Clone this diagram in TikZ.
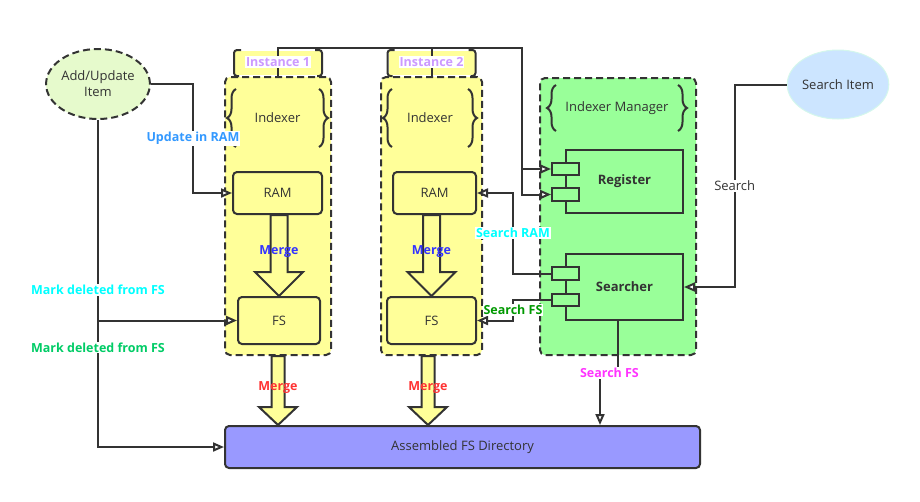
\documentclass[tikz,border=0pt]{standalone}
\usepackage{fontspec}
\setmainfont{Open Sans}
\usepackage{tikz}
\usetikzlibrary{positioning,arrows.meta,calc,shapes.geometric,decorations.pathreplacing}
\definecolor{lineclr}{HTML}{333333}
\definecolor{yellowclr}{HTML}{FFFF99}
\definecolor{greenclr}{HTML}{99FF99}
\definecolor{blueclr}{HTML}{9999FF}
\definecolor{addclr}{HTML}{E6FACC}
\definecolor{searchclr}{HTML}{CCE5FF}
\definecolor{mintclr}{HTML}{D4F7EC}
\definecolor{instclr}{HTML}{CC99FF}
\definecolor{updclr}{HTML}{3399FF}
\definecolor{cyanclr}{HTML}{00FFFF}
\definecolor{markclr}{HTML}{00CC66}
\definecolor{mergein}{HTML}{3333FF}
\definecolor{mergeout}{HTML}{FF3333}
\definecolor{sfsclr}{HTML}{009900}
\definecolor{pinkclr}{HTML}{FF33FF}

\begin{document}
\begin{tikzpicture}[x=1pt, y=-1pt, line width=2pt, color=lineclr,
				every node/.style={font=\fontsize{13}{16}\selectfont, text=lineclr},
				conn/.style={-{Triangle[length=11pt, width=9pt, fill=white]}},
				item/.style={ellipse, minimum width=100pt, minimum height=70pt, align=center, inner sep=0},
				container/.style={draw, dash pattern=on 7pt off 4pt, rounded corners=5pt, inner sep=0},
				tabbox/.style={fill=yellowclr, minimum width=86pt, minimum height=24pt, inner sep=0},
				box/.style={draw, rounded corners=4pt, fill=yellowclr, inner sep=0},
				comp/.style={draw, fill=greenclr, inner sep=0, font=\bfseries\fontsize{13}{16}\selectfont},
				port/.style={draw, fill=greenclr, minimum width=27pt, minimum height=12.5pt, inner sep=0},
				curly/.style={decorate, decoration={brace, amplitude=9pt}},
				lbl/.style={fill=white, inner sep=1pt, font=\bfseries\fontsize{12.5}{15}\selectfont},
				blockarrow/.style={draw, fill=yellowclr, line join=miter}]
				\useasboundingbox (0,0) rectangle (920,501);

				\node[container, fill=yellowclr, minimum width=106pt, minimum height=278pt] (inst1) at (278,216) {};
				\node[container, fill=yellowclr, minimum width=101pt, minimum height=278pt] (inst2) at (431.5,216) {};
				\node[container, fill=greenclr, minimum width=156pt, minimum height=277pt] (manager) at (618,216.5) {};

				\node[tabbox, above=0pt of inst1] (tab1) {};
				\node[tabbox, above=0pt of inst2] (tab2) {};
				\foreach \t in {tab1,tab2}{
					\draw[rounded corners=3pt] ([xshift=7pt]\t.north west) -- (\t.north west) -- (\t.south west) -- ([xshift=5pt]\t.south west);
					\draw[rounded corners=3pt] ([xshift=-7pt]\t.north east) -- (\t.north east) -- (\t.south east) -- ([xshift=-5pt]\t.south east);
				}

				\node[minimum width=81pt, minimum height=56pt, inner sep=0] (idx1) at (277.5,118) {Indexer};
				\node[minimum width=74pt, minimum height=56pt, inner sep=0] (idx2) at (430,118) {Indexer};
				\node[minimum width=120pt, minimum height=44pt, inner sep=0] (idxmgr) at (617,108) {Indexer Manager};
				\foreach \n in {idx1,idx2,idxmgr}{
					\draw[curly] (\n.south west) -- (\n.north west);
					\draw[curly] (\n.north east) -- (\n.south east);
				}

				\node[box, minimum width=89pt, minimum height=42pt] (ram1) at (277.5,193) {RAM};
				\node[box, minimum width=82pt, minimum height=47pt] (fs1) at (279,320.5) {FS};
				\node[box, minimum width=83pt, minimum height=42pt] (ram2) at (434.5,193) {RAM};
				\node[box, minimum width=89pt, minimum height=47pt] (fs2) at (431.5,320.5) {FS};
				\node[comp, minimum width=117pt, minimum height=63pt] (register) at (624.5,181.5) {Register};
				\node[comp, minimum width=117pt, minimum height=66pt] (searcher) at (624.5,287) {Searcher};
				\node[port] (regport1) at (565.5,169) {};
				\node[port] (regport2) at (565.5,194.5) {};
				\node[port] (srchport1) at (565.5,273.5) {};
				\node[port] (srchport2) at (565.5,300) {};
				\node[box, fill=blueclr, minimum width=475pt, minimum height=42pt] (assembled) at (462.5,447) {Assembled FS Directory};

				\node[item, draw, dash pattern=on 7pt off 4pt, fill=addclr] (additem) at (98,84) {Add/Update\\Item};
				\node[item, draw=mintclr, line width=1pt, fill=searchclr, minimum height=69pt] (searchitem) at (838,84.5) {Search Item};

				\coordinate (out1) at (inst1.south);
				\coordinate (out2) at ([xshift=-3.5pt]inst2.south);
				\foreach \a/\b/\w/\hw/\hl/\clr in {ram1.south -| fs1.north/fs1.north/8.5/24/24/mergein,
					ram2.south -| fs2.north/fs2.north/8.5/24/24/mergein,
					out1/out1 |- assembled.north/6.5/19/18/mergeout,
					out2/out2 |- assembled.north/6.5/19/18/mergeout}{
					\draw[blockarrow] let \p1=(\a), \p2=(\b) in
						(\x2-\w pt,\y1) -- (\x2-\w pt,\y2+\hl pt) -- (\x2-\hw pt,\y2+\hl pt) -- (\x2,\y2)
						-- (\x2+\hw pt,\y2+\hl pt) -- (\x2+\w pt,\y2+\hl pt) -- (\x2+\w pt,\y1) -- cycle;
					\node[font=\bfseries\fontsize{12.5}{15}\selectfont, text=\clr] at ($(\a)!0.45!(\b)$) {Merge};
				}

				\draw[conn] (additem.east) -- ++(42,0) |- node[lbl, text=updclr, pos=0.25] (lblupd) {Update in RAM} (ram1.west);
				\draw[conn] (additem.south) |- node[lbl, text=cyanclr, pos=0.26] (lblmark1) {Mark deleted from FS}
					node[lbl, text=markclr, pos=0.348] (lblmark2) {Mark deleted from FS} (assembled.west);
				\draw[conn] (additem.south |- fs1.west) -- (fs1.west);

				\coordinate (bus) at (522,48);
				\draw (inst2.north) -- (inst2.north |- bus);
				\draw[conn] (inst1.north) |- (bus) |- (regport2.west);
				\draw[conn] (bus |- regport1.west) -- (regport1.west);
				\node[lbl, text=instclr] (lblinst1) at ([yshift=1pt]tab1.center) {Instance 1};
				\node[lbl, text=instclr] (lblinst2) at ([yshift=1pt]tab2.center) {Instance 2};

				\draw[conn] (srchport1.west) -- ++(-38,0) |- node[lbl, text=cyanclr, pos=0.25] (lblsram) {Search RAM} (ram2.east);
				\draw[conn] (srchport2.west) -- ++(-38,0) |- node[lbl, text=sfsclr, pos=0.25] (lblsfs) {Search FS} (fs2.east);
				\draw[conn] (searchitem.west) -- ++(-52,0) |- node[fill=white, inner sep=1pt, pos=0.25] (lblsearch) {Search} (searcher.east);
				\coordinate (sfs) at (600,373);
				\draw[conn] ([xshift=-7pt]searcher.south) |- (sfs) -- (sfs |- assembled.north);
				\node[lbl, text=pinkclr, right=-22pt of sfs] (lblsfs2) {Search FS};
\end{tikzpicture}
\end{document}
